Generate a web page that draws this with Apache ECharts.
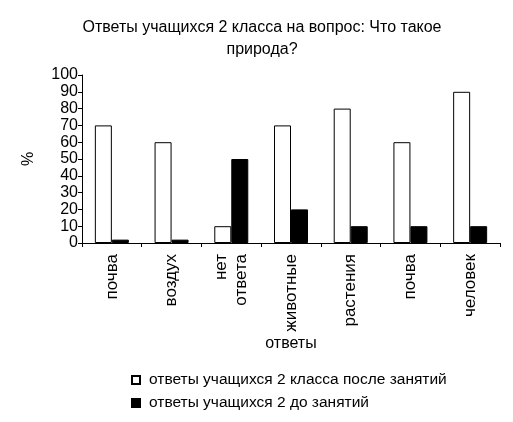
<!DOCTYPE html>
<html>
<head>
<meta charset="utf-8">
<script src="https://cdn.jsdelivr.net/npm/echarts@6/dist/echarts.min.js"></script>
<style>
html,body{margin:0;padding:0;background:#fff;}
#chart{width:513px;height:422px;}
</style>
</head>
<body>
<div id="chart"></div>
<script>
var categories = ['почва', 'воздух', 'нет\nответа', 'животные', 'растения', 'почва', 'человек'];
var afterLessons = [70, 60, 10, 70, 80, 60, 90];
var beforeLessons = [2, 2, 50, 20, 10, 10, 10];
var yTicks = [0, 100, 10]; // min, max, step

var font = 'Liberation Sans, Arial, sans-serif';
var chart = echarts.init(document.getElementById('chart'));
chart.setOption({
  animation: false,
  backgroundColor: '#fff',
  title: {
    text: 'Ответы учащихся 2 класса на вопрос: Что такое\nприрода?',
    left: 257, top: 12, textAlign: 'center',
    textStyle: { fontFamily: font, fontSize: 16, fontWeight: 'normal', color: '#000', lineHeight: 22 }
  },
  legend: {
    orient: 'vertical', left: 131, top: 372,
    padding: 0,
    itemWidth: 8, itemHeight: 8, itemGap: 7,
    icon: 'rect',
    textStyle: { fontFamily: font, fontSize: 15.5, color: '#000', lineHeight: 16, padding: [0, 0, 0, 4] },
    data: ['ответы учащихся 2 класса после занятий', 'ответы учащихся 2 до занятий']
  },
  grid: { left: 82, right: 13, top: 75, bottom: 179 },
  xAxis: {
    type: 'category',
    data: categories,
    name: 'ответы', nameLocation: 'middle', nameGap: 91,
    nameTextStyle: { fontFamily: font, fontSize: 16, color: '#000' },
    axisLine: { lineStyle: { color: '#000', width: 1 } },
    axisTick: { show: true, length: 4, lineStyle: { color: '#000' } },
    axisLabel: { rotate: 90, fontFamily: font, fontSize: 17, color: '#000', margin: 11, lineHeight: 20, interval: 0 }
  },
  yAxis: {
    type: 'value',
    min: yTicks[0], max: yTicks[1], interval: yTicks[2],
    name: '%', nameLocation: 'middle', nameGap: 45, nameRotate: 90,
    nameTextStyle: { fontFamily: font, fontSize: 16, color: '#000' },
    splitLine: { show: false },
    axisLine: { show: true, lineStyle: { color: '#000', width: 1 } },
    axisTick: { show: true, length: 4, lineStyle: { color: '#000' } },
    axisLabel: {
      fontFamily: font, fontSize: 16, lineHeight: 12, color: '#000', margin: 4,
      interval: 0, showMinLabel: true, showMaxLabel: true, hideOverlap: false
    }
  },
  series: [
    {
      name: 'ответы учащихся 2 класса после занятий',
      type: 'bar', data: afterLessons,
      barWidth: 17, barGap: 0,
      itemStyle: { color: '#fff', borderColor: '#000', borderWidth: 1 }
    },
    {
      name: 'ответы учащихся 2 до занятий',
      type: 'bar', data: beforeLessons,
      barWidth: 17, barGap: 0,
      itemStyle: { color: '#000', borderColor: '#000', borderWidth: 1 }
    }
  ]
});
</script>
</body>
</html>
